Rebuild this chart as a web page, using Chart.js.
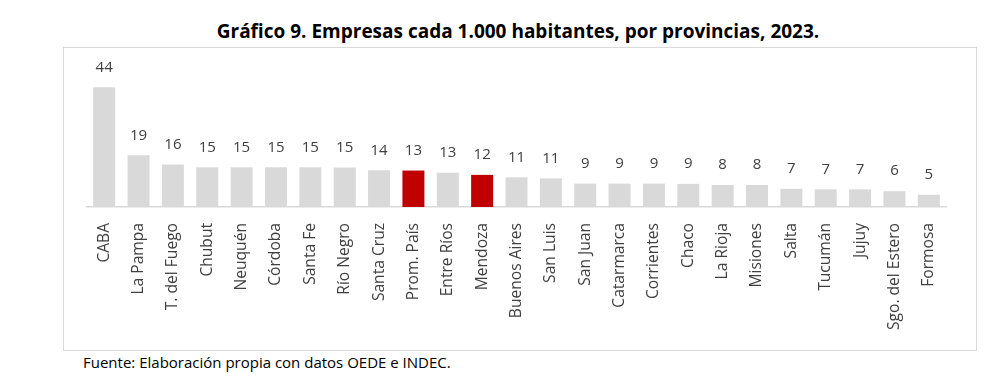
<!DOCTYPE html>
<html>
<head>
<meta charset="utf-8">
<script src="https://cdn.jsdelivr.net/npm/chart.js@4.4.0/dist/chart.umd.min.js"></script>
<style>
    body { margin: 0; background: #fff; width: 1000px; height: 389px; position: relative; overflow: hidden; font-family: "Open Sans", sans-serif; }
    #title { position: absolute; left: 0; width: 1036px; top: 18px; text-align: center; font-weight: bold; font-size: 19px; color: #000; }
    #box { position: absolute; left: 63px; top: 47px; width: 912px; height: 302px; border: 1px solid #d9d9d9; }
    #footer { position: absolute; left: 83px; top: 352px; font-size: 15px; color: #000; }
</style>
</head>
<body>
<div id="title">Gráfico 9. Empresas cada 1.000 habitantes, por provincias, 2023.</div>
<div id="box"><canvas id="chart" width="912" height="302"></canvas></div>
<div id="footer">Fuente: Elaboración propia con datos OEDE e INDEC.</div>
<script>
const provincias = ['CABA', 'La Pampa', 'T. del Fuego', 'Chubut', 'Neuquén', 'Córdoba', 'Santa Fe', 'Río Negro',
    'Santa Cruz', 'Prom. País', 'Entre Ríos', 'Mendoza', 'Buenos Aires', 'San Luis', 'San Juan', 'Catarmarca',
    'Corrientes', 'Chaco', 'La Rioja', 'Misiones', 'Salta', 'Tucumán', 'Jujuy', 'Sgo. del Estero', 'Formosa'];
const empresas = [44, 19, 15.6, 14.6, 14.6, 14.6, 14.6, 14.5, 13.5, 13.4, 12.6, 11.8, 10.9, 10.5, 8.6, 8.6,
    8.6, 8.5, 8.1, 8.1, 6.7, 6.5, 6.5, 5.8, 4.5];
const destacadas = ['Prom. País', 'Mendoza'];

const barColors = provincias.map(p => destacadas.includes(p) ? '#c00000' : '#d9d9d9');

const valueLabels = {
    id: 'valueLabels',
    afterDatasetsDraw(chart) {
        const { ctx } = chart;
        const meta = chart.getDatasetMeta(0);
        ctx.save();
        ctx.font = '15px "Open Sans"';
        ctx.fillStyle = '#404040';
        ctx.textAlign = 'center';
        ctx.textBaseline = 'middle';
        meta.data.forEach((bar, i) => {
            ctx.fillText(Math.round(empresas[i]), bar.x, bar.y - 20);
        });
        ctx.restore();
    }
};

new Chart(document.getElementById('chart'), {
    type: 'bar',
    data: {
        labels: provincias,
        datasets: [{
            data: empresas,
            backgroundColor: barColors,
            borderWidth: 0,
            barPercentage: 0.64,
            categoryPercentage: 1
        }]
    },
    options: {
        responsive: false,
        animation: false,
        layout: { padding: { left: 23, right: 30, top: 23, bottom: 0 } },
        plugins: { legend: { display: false }, tooltip: { enabled: false } },
        scales: {
            x: {
                grid: { display: false },
                border: { display: true, color: '#d9d9d9', width: 1.5 },
                ticks: {
                    color: '#404040',
                    font: { family: 'Open Sans', size: 15.6 },
                    minRotation: 90,
                    maxRotation: 90,
                    padding: 8,
                    autoSkip: false
                },
                afterFit(scale) { scale.height = 143; }
            },
            y: { display: false, min: 0, max: 50 }
        }
    },
    plugins: [valueLabels]
});
</script>
</body>
</html>
